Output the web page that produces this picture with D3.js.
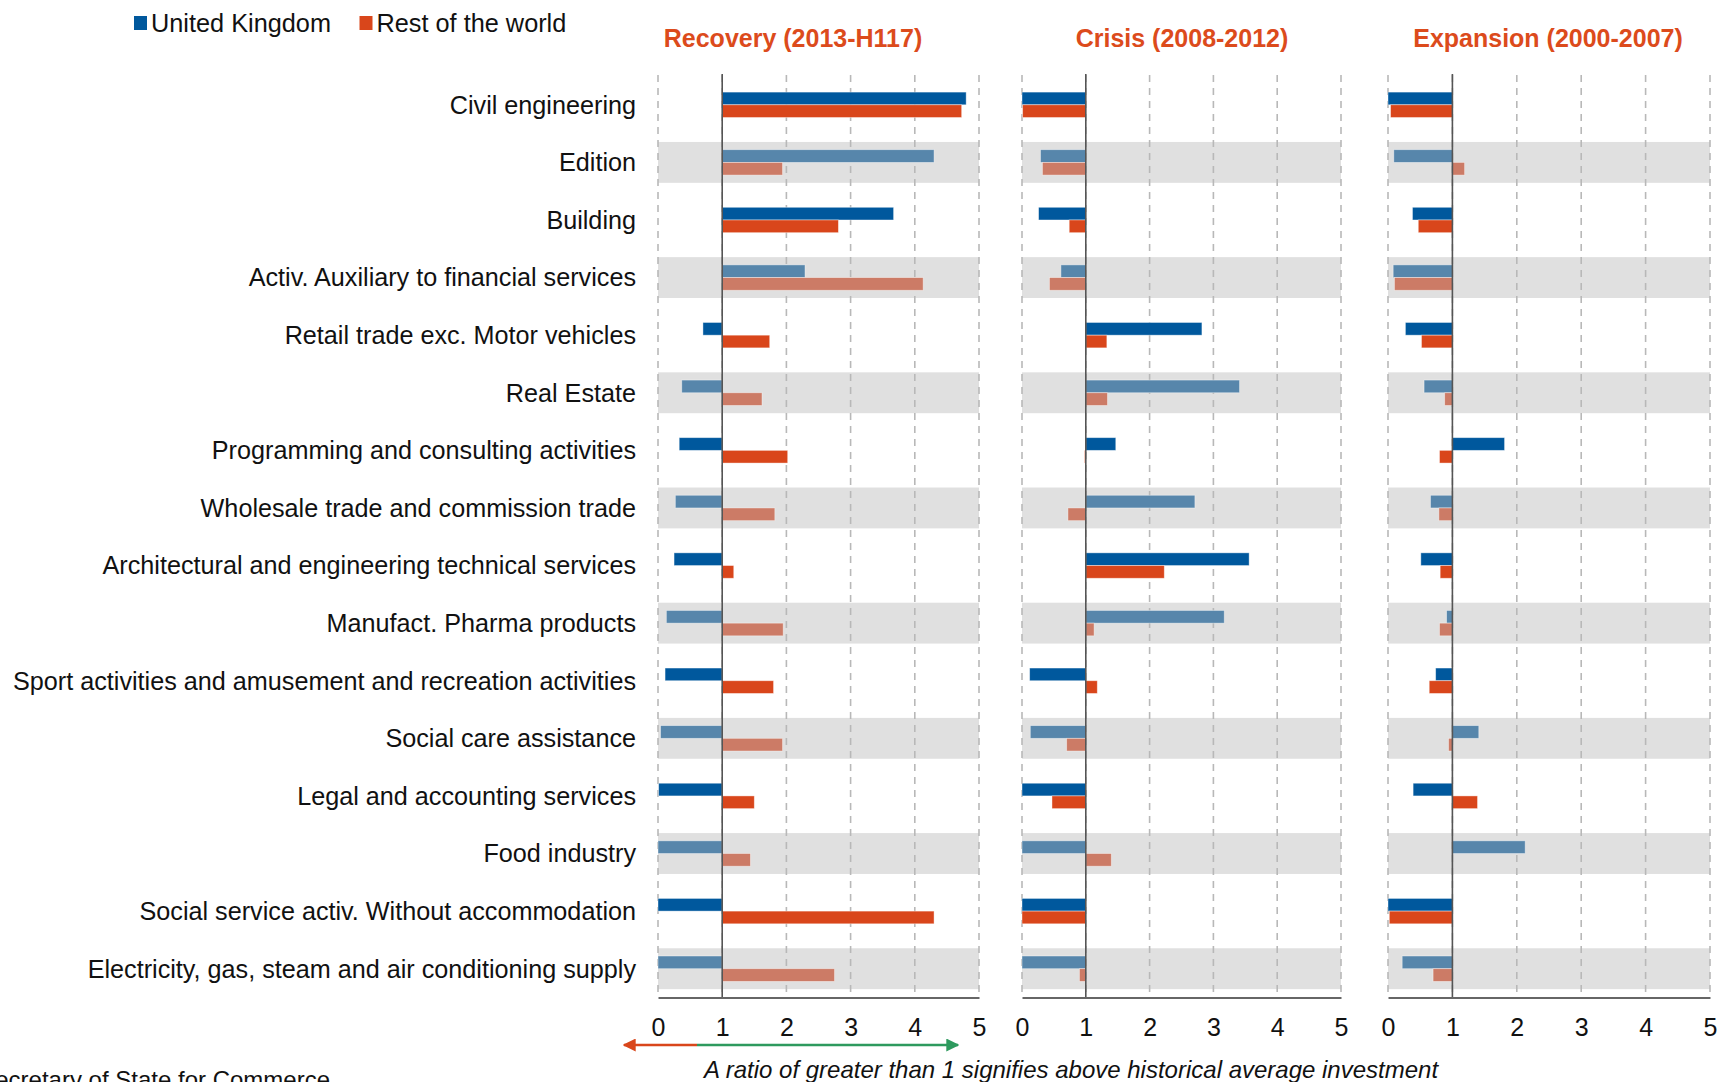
<!DOCTYPE html>
<html>
<head>
<meta charset="utf-8">
<script src="https://cdn.jsdelivr.net/npm/d3@7"></script>
<style>
  body { margin: 0; background: #fff; }
  text { font-family: "Liberation Sans", Arial, sans-serif; }
</style>
</head>
<body>
<div id="chart"></div>
<script>
// data: ratio to historical average investment
var categories = [
  "Civil engineering",
  "Edition",
  "Building",
  "Activ. Auxiliary to financial services",
  "Retail trade exc. Motor vehicles",
  "Real Estate",
  "Programming and consulting activities",
  "Wholesale trade and commission trade",
  "Architectural and engineering technical services",
  "Manufact. Pharma products",
  "Sport activities and amusement and recreation activities",
  "Social care assistance",
  "Legal and accounting services",
  "Food industry",
  "Social service activ. Without accommodation",
  "Electricity, gas, steam and air conditioning supply"
];

var recoveryUK  = [4.80, 4.30, 3.67, 2.29, 0.70, 0.37, 0.33, 0.27, 0.25, 0.13, 0.11, 0.04, 0.01, 0.00, 0.00, 0.00];
var recoveryRoW = [4.73, 1.94, 2.81, 4.13, 1.74, 1.62, 2.02, 1.82, 1.18, 1.95, 1.80, 1.94, 1.50, 1.44, 4.30, 2.75];

var crisisUK  = [0.00, 0.29, 0.26, 0.61, 2.82, 3.41, 1.47, 2.71, 3.56, 3.17, 0.12, 0.13, 0.00, 0.00, 0.00, 0.00];
var crisisRoW = [0.01, 0.32, 0.74, 0.43, 1.33, 1.34, 0.98, 0.72, 2.23, 1.13, 1.18, 0.70, 0.47, 1.40, 0.00, 0.90];

var expansionUK  = [0.00, 0.09, 0.38, 0.08, 0.27, 0.56, 1.81, 0.66, 0.51, 0.91, 0.74, 1.41, 0.39, 2.13, 0.00, 0.22];
var expansionRoW = [0.04, 1.19, 0.47, 0.10, 0.52, 0.88, 0.80, 0.79, 0.81, 0.80, 0.64, 0.94, 1.39, 1.00, 0.02, 0.70];

var panelTitles = ["Recovery (2013-H117)", "Crisis (2008-2012)", "Expansion (2000-2007)"];
var seriesNames = ["United Kingdom", "Rest of the world"];
var tickValues = [0, 1, 2, 3, 4, 5];

var width = 1719, height = 1082;

var colUK = "#00589d", colUKlight = "#5786ab",
    colRoW = "#d9461b", colRoWlight = "#cc7b66",
    titleColor = "#dc4b1c";

var svg = d3.select("#chart").append("svg")
    .attr("width", width)
    .attr("height", height);

var panels = [
  {title: panelTitles[0], uk: recoveryUK, row: recoveryRoW, x0: 658, x1: 979, titleX: 793},
  {title: panelTitles[1], uk: crisisUK, row: crisisRoW, x0: 1022, x1: 1341, titleX: 1182},
  {title: panelTitles[2], uk: expansionUK, row: expansionRoW, x0: 1388, x1: 1710, titleX: 1548}
];

var plotTop = 76, plotBottom = 997.5;

var y = d3.scaleBand()
    .domain(categories)
    .range([plotTop, plotBottom])
    .paddingInner(0.29)
    .paddingOuter(0.145);

var barH = 12.7;

// category labels
svg.append("g").selectAll("text")
    .data(categories)
    .enter().append("text")
    .attr("x", 636)
    .attr("y", function(d) { return y(d) + y.bandwidth() / 2; })
    .attr("dy", "0.35em")
    .attr("text-anchor", "end")
    .style("font-size", "25.2px")
    .style("fill", "#111")
    .text(function(d) { return d; });

panels.forEach(function(p) {
  var x = d3.scaleLinear().domain([0, 5]).range([p.x0, p.x1]);
  var g = svg.append("g").attr("class", "panel");

  // gray bands on every other row
  g.selectAll("rect.band")
      .data(categories.filter(function(d, i) { return i % 2 == 1; }))
      .enter().append("rect")
      .attr("class", "band")
      .attr("x", x(0))
      .attr("y", function(d) { return y(d); })
      .attr("width", x(5) - x(0))
      .attr("height", y.bandwidth())
      .style("fill", "#e0e0e0");

  // dashed gridlines
  g.selectAll("line.grid")
      .data(tickValues)
      .enter().append("line")
      .attr("class", "grid")
      .attr("x1", function(d) { return x(d); })
      .attr("x2", function(d) { return x(d); })
      .attr("y1", plotTop - 1)
      .attr("y2", plotBottom)
      .style("stroke", "#b8b8b8")
      .style("stroke-width", 1.6)
      .style("stroke-dasharray", "7,6");

  var rows = categories.map(function(c, i) {
    return {cat: c, i: i, uk: p.uk[i], row: p.row[i]};
  });

  var mid = function(d) { return y(d.cat) + y.bandwidth() / 2; };

  g.selectAll("rect.uk")
      .data(rows)
      .enter().append("rect")
      .attr("class", "uk")
      .attr("x", function(d) { return x(Math.min(1, d.uk)); })
      .attr("y", function(d) { return mid(d) - barH; })
      .attr("width", function(d) { return Math.abs(x(d.uk) - x(1)); })
      .attr("height", barH)
      .style("fill", function(d) { return d.i % 2 ? colUKlight : colUK; })
      .style("stroke", "rgba(255,255,255,0.5)")
      .style("stroke-width", 0.8);

  g.selectAll("rect.rw")
      .data(rows)
      .enter().append("rect")
      .attr("class", "rw")
      .attr("x", function(d) { return x(Math.min(1, d.row)); })
      .attr("y", function(d) { return mid(d); })
      .attr("width", function(d) { return Math.abs(x(d.row) - x(1)); })
      .attr("height", barH)
      .style("fill", function(d) { return d.i % 2 ? colRoWlight : colRoW; })
      .style("stroke", "rgba(255,255,255,0.5)")
      .style("stroke-width", 0.8);

  // reference line at 1
  g.append("line")
      .attr("x1", x(1)).attr("x2", x(1))
      .attr("y1", plotTop - 2).attr("y2", plotBottom)
      .style("stroke", "#555")
      .style("stroke-width", 1.6);

  // bottom axis
  var axis = g.append("g")
      .attr("transform", "translate(0," + plotBottom + ")")
      .call(d3.axisBottom(x).tickValues(tickValues).tickSize(0).tickPadding(21).tickFormat(d3.format("d")));
  axis.select(".domain").style("stroke", "#666").style("stroke-width", 2);
  axis.selectAll("text")
      .style("font-size", "25px")
      .style("font-family", "'Liberation Sans', Arial, sans-serif")
      .style("fill", "#111");

  // panel title
  svg.append("text")
      .attr("x", p.titleX)
      .attr("y", 47)
      .attr("text-anchor", "middle")
      .style("font-size", "25px")
      .style("font-weight", "bold")
      .style("fill", titleColor)
      .text(p.title);
});

// legend
var legend = svg.append("g").attr("class", "legend");
var legendX = [134, 359.5];
var legendCol = [colUK, colRoW];
seriesNames.forEach(function(name, i) {
  legend.append("rect")
      .attr("x", legendX[i]).attr("y", 16)
      .attr("width", 13).attr("height", 14)
      .style("fill", legendCol[i]);
  legend.append("text")
      .attr("x", legendX[i] + 17)
      .attr("y", 32)
      .style("font-size", "25.3px")
      .style("fill", "#111")
      .text(name);
});

// arrow under the axis
var defs = svg.append("defs");
[["arrRed", colRoW], ["arrGreen", "#2e9a5e"]].forEach(function(m) {
  defs.append("marker")
      .attr("id", m[0])
      .attr("viewBox", "0 0 10 10")
      .attr("refX", 9).attr("refY", 5)
      .attr("markerWidth", 5).attr("markerHeight", 5)
      .attr("markerUnits", "strokeWidth")
      .attr("orient", "auto")
    .append("path")
      .attr("d", "M0,0L10,5L0,10Z")
      .style("fill", m[1]);
});

svg.append("line")
    .attr("x1", 697).attr("x2", 624)
    .attr("y1", 1045).attr("y2", 1045)
    .style("stroke", colRoW)
    .style("stroke-width", 2.6)
    .attr("marker-end", "url(#arrRed)");

svg.append("line")
    .attr("x1", 697).attr("x2", 958)
    .attr("y1", 1045).attr("y2", 1045)
    .style("stroke", "#2e9a5e")
    .style("stroke-width", 2.6)
    .attr("marker-end", "url(#arrGreen)");

svg.append("text")
    .attr("x", 1071)
    .attr("y", 1078)
    .attr("text-anchor", "middle")
    .style("font-size", "24px")
    .style("font-style", "italic")
    .style("fill", "#111")
    .text("A ratio of greater than 1 signifies above historical average investment");

// source line sits partly below the picture edge, as in the original
svg.append("text")
    .attr("x", 330)
    .attr("y", 1088)
    .attr("text-anchor", "end")
    .style("font-size", "24px")
    .style("fill", "#111")
    .text("Source: Secretary of State for Commerce");
</script>
</body>
</html>
